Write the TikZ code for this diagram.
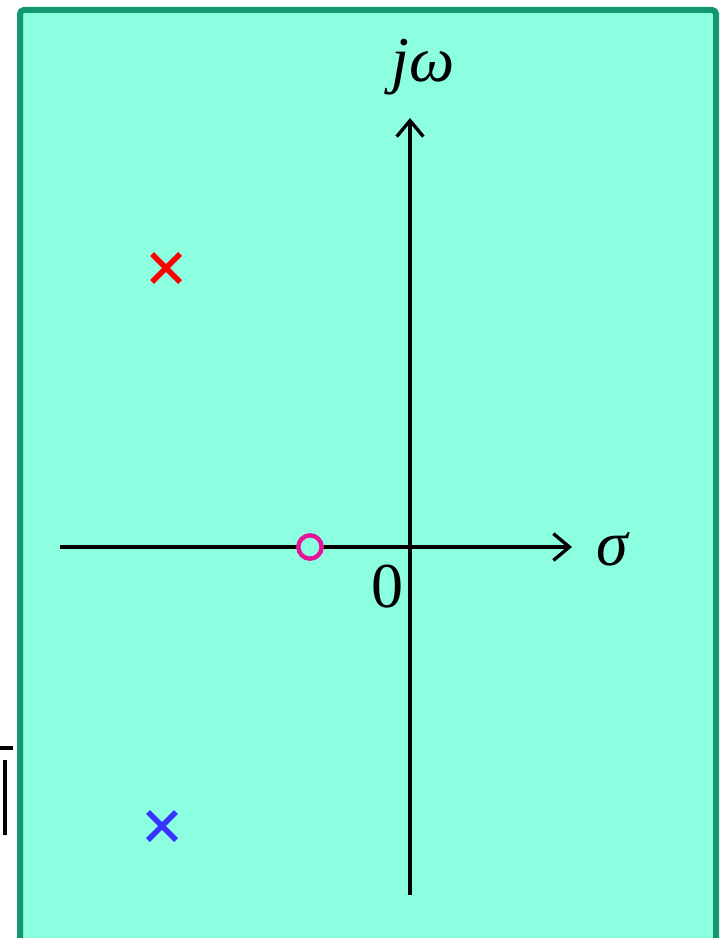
\documentclass[tikz,border=0pt]{standalone}
\usepackage{fontspec}
\setmainfont{Liberation Serif}
\usetikzlibrary{arrows.meta,shapes.misc,positioning}
\definecolor{PlaneFill}{HTML}{8CFFE0}
\definecolor{PlaneEdge}{HTML}{12976F}
\definecolor{PoleRed}{HTML}{FF0000}
\definecolor{PoleBlue}{HTML}{3535FF}
\definecolor{ZeroPink}{HTML}{E8119A}

\begin{document}
\begin{tikzpicture}[x=0.75pt,y=-0.75pt,
  axis/.style={line width=2.5pt,-{Straight Barb[length=12pt,width=20pt]}},
  pole/.style={cross out,draw,line width=4pt,minimum size=17pt,inner sep=0pt},
  zero/.style={circle,draw=ZeroPink,fill=PlaneFill,line width=3.3pt,minimum size=17.5pt,inner sep=0pt},
  lbl/.style={font=\fontsize{48}{56}\selectfont,inner sep=0pt,anchor=base}
]
\useasboundingbox (0,0) rectangle (725,938);

%% s-plane background
\draw[PlaneEdge,fill=PlaneFill,line width=4.5pt,rounded corners=3pt] (20,10) rectangle (716,960);
\draw[line width=2.4pt] (0,748) -- (13,748);
\draw[line width=2.4pt] (5,760) -- (5,835);

%% axes
\coordinate (re0) at (60,547);
\coordinate (re1) at (572,547);
\coordinate (im0) at (410,895);
\coordinate (im1) at (410,118);
\draw[axis] (re0) -- (re1);
\draw[axis] (im0) -- (im1);

%% labels
\node[lbl] (sigma) at (612,565) {\itshape σ};
\node[lbl] (jw)    at (423,82)  {\itshape jω};
\node[lbl] (orig)  at (387,607) {0};

%% poles and zero
\node[pole,draw=PoleRed]  (p1) at (166,268) {};
\node[pole,draw=PoleBlue] (p2) at (162,826) {};
\node[zero]               (z1) at (310,547) {};

\end{tikzpicture}
\end{document}
